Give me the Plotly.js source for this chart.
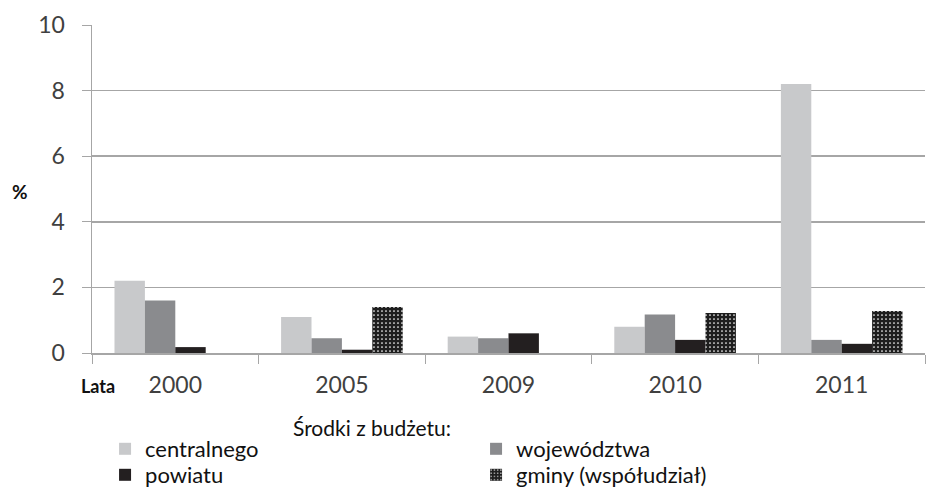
<!DOCTYPE html>
<html><head><meta charset="utf-8">
<script src="https://cdn.plot.ly/plotly-3.0.1.min.js"></script>
<style>html,body{margin:0;padding:0;background:#fff}#c{width:938px;height:489px}</style>
</head><body><div id="c"></div>
<script>
const years = ['2000','2005','2009','2010','2011'];
const centralnego = [2.2, 1.1, 0.5, 0.8, 8.2];
const wojewodztwa = [1.6, 0.45, 0.45, 1.17, 0.4];
const powiatu = [0.18, 0.1, 0.6, 0.4, 0.28];
const gminy = [0, 1.4, 0, 1.22, 1.28];
const seriesNames = ['centralnego', 'województwa', 'powiatu', 'gminy (współudział)'];
const yTicks = [0, 2, 4, 6, 8, 10];

const F = 'Lato, "Open Sans", sans-serif';
const W = 938, H = 489, L = 92, T = 25, PW = 833, PH = 328;
const px = x => (x - L) / PW;
const py = y => (T + PH - y) / PH;

const traces = [
  {type:'bar', x:years, y:centralnego, name:seriesNames[0], marker:{color:'#c8c9cb'}, legend:'legend'},
  {type:'bar', x:years, y:wojewodztwa, name:seriesNames[1], marker:{color:'#8a8b8e'}, legend:'legend'},
  {type:'bar', x:years, y:powiatu, name:seriesNames[2], marker:{color:'#231f20'}, legend:'legend2'},
  {type:'bar', x:years, y:gminy, name:seriesNames[3], legend:'legend2',
   marker:{color:'#1e1e1e', pattern:{shape:'.', fgcolor:'#ffffff', bgcolor:'#1e1e1e', size:4, solidity:0.15}}}
];
const legBase = {orientation:'h', xref:'container', yref:'container', xanchor:'left', yanchor:'middle',
  entrywidth:326, entrywidthmode:'pixels', font:{family:F, size:22, color:'#111'}, bgcolor:'rgba(0,0,0,0)', traceorder:'normal'};
const layout = {
  width:W, height:H,
  margin:{l:L, r:W - L - PW, t:T, b:H - T - PH},
  paper_bgcolor:'#fff', plot_bgcolor:'#fff',
  barmode:'group', bargap:0.27, bargroupgap:0,
  font:{family:F, color:'#404040'},
  xaxis:{type:'category', showline:true, linecolor:'#a6a6a6', linewidth:1.5, ticks:'outside', tickson:'boundaries',
    ticklen:9, tickcolor:'#a6a6a6', tickfont:{family:F, size:23, color:'#404040'}, showgrid:false, ticklabelstandoff:11},
  yaxis:{range:[0,10], tickvals:yTicks, showline:true, linecolor:'#a6a6a6', linewidth:1.5, ticks:'outside', ticklen:9,
    tickcolor:'#a6a6a6', gridcolor:'#a6a6a6', gridwidth:1.5, zeroline:false, tickfont:{family:F, size:23, color:'#404040'}, ticklabelstandoff:12},
  legend:Object.assign({}, legBase, {x:0.112, y:1-449/H}),
  legend2:Object.assign({}, legBase, {x:0.112, y:1-475/H}),
  annotations:[
    {text:'<b>%</b>', xref:'paper', yref:'paper', x:px(20), y:py(191), xanchor:'center', yanchor:'middle', showarrow:false, font:{family:F, size:19, color:'#111'}},
    {text:'<b>Lata</b>', xref:'paper', yref:'paper', x:px(98), y:py(386), xanchor:'center', yanchor:'middle', showarrow:false, font:{family:F, size:18, color:'#111'}},
    {text:'Środki z budżetu:', xref:'paper', yref:'paper', x:px(372), y:py(427), xanchor:'center', yanchor:'middle', showarrow:false, font:{family:F, size:21, color:'#111'}}
  ],
  showlegend:true
};
Plotly.newPlot('c', traces, layout, {displayModeBar:false, staticPlot:true});
</script></body></html>
